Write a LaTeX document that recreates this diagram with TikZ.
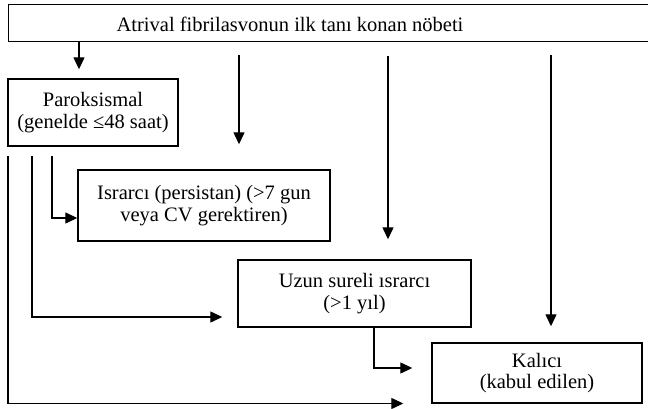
\documentclass[tikz,border=0pt]{standalone}
\usepackage{fontspec}
\setmainfont{Liberation Serif}
\usetikzlibrary{arrows.meta, calc}

\tikzset{
  box/.style={draw, line width=1.4pt, inner sep=0pt, align=center,
    font=\fontsize{20.5}{22.5}\selectfont},
  arr/.style={line width=1.3pt, -{Triangle[length=12pt,width=11pt]}},
}

\begin{document}
\begin{tikzpicture}[x=1pt,y=-1pt]
\useasboundingbox (0,0) rectangle (648,409);
% boxes
\node[box, minimum width=642pt, minimum height=37pt, anchor=north west] (top) at (8,4) {};
\node[inner sep=0pt, font=\fontsize{20.5}{22.5}\selectfont] (toptext) at (290,24) {Atrival fibrilasvonun ilk tanı konan nöbeti};
\node[box, minimum width=170pt, minimum height=67pt] (par) at (93,112.5) {Paroksismal\\(genelde ≤48 saat)};
\node[box, minimum width=252pt, minimum height=71pt] (isr) at (204,205.5) {Israrcı (persistan) (>7 gun\\veya CV gerektiren)};
\node[box, minimum width=233pt, minimum height=67pt] (uzun) at (354.5,293.5) {Uzun sureli ısrarcı\\(>1 yıl)};
\node[box, minimum width=210pt, minimum height=60pt, font=\fontsize{20.5}{20.5}\selectfont] (kal) at (537,373) {Kalıcı\\(kabul edilen)};
% columns
\coordinate (c1) at (79,0);
\coordinate (c2) at (239,0);
\coordinate (c3) at (388,0);
\coordinate (c4) at (551,0);
\coordinate (d1) at (8,0);
\coordinate (d2) at (32,0);
\coordinate (d3) at (52,0);
\coordinate (e1) at (374,0);
% from the first episode
\draw[arr, shorten >=9pt] (top.south -| c1) -- (par.north -| c1);
\draw[arr, shorten <=13pt, shorten >=25pt] (top.south -| c2) -- (isr.north -| c2);
\draw[arr, shorten <=14pt, shorten >=20pt] (top.south -| c3) -- (uzun.north -| c3);
\draw[arr, shorten <=13pt, shorten >=16pt] (top.south -| c4) -- (kal.north -| c4);
% from paroxysmal
\draw[arr, shorten <=9pt] (par.south -| d3) |- ([yshift=-12.5pt]isr.west);
\draw[arr, shorten <=9pt, shorten >=15pt] (par.south -| d2) |- ([yshift=-23.5pt]uzun.west);
\draw[arr, shorten <=9pt, shorten >=28pt] (par.south -| d1) |- ([yshift=-30.5pt]kal.west);
% long standing
\draw[arr, shorten >=19pt] (uzun.south -| e1) |- ([yshift=5pt]kal.west);
\end{tikzpicture}
\end{document}
